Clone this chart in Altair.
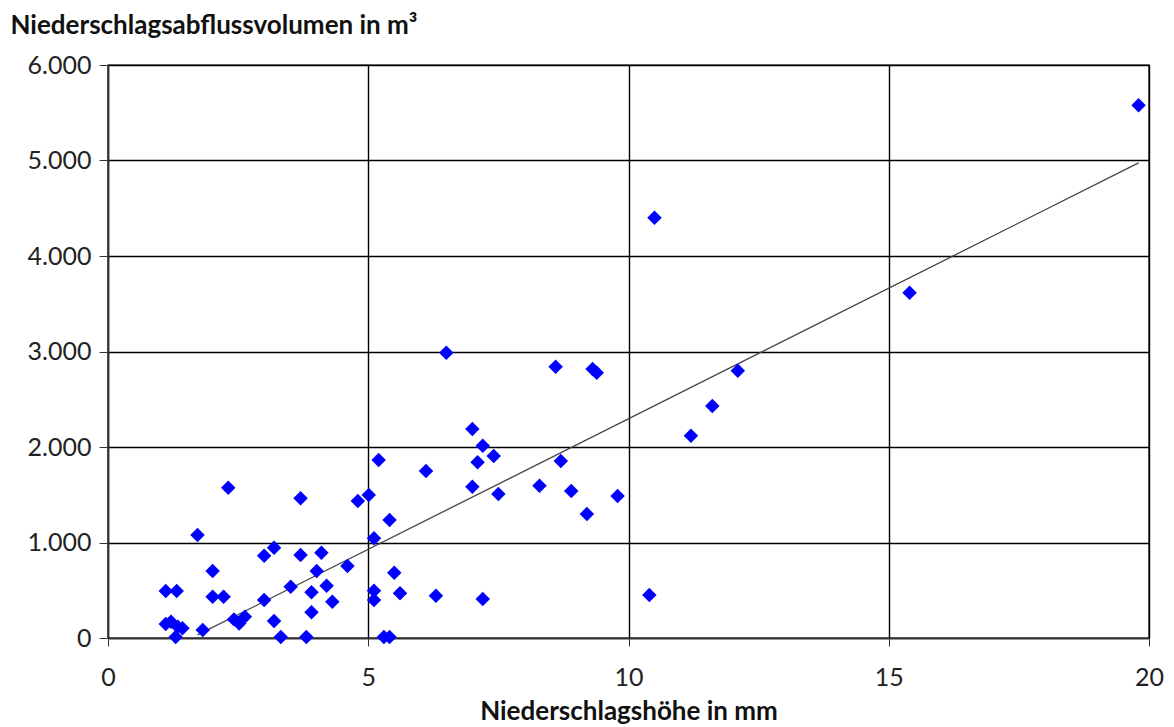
import altair as alt
import pandas as pd

# Niederschlagshöhe (mm) und Abflussvolumen (m³) je Ereignis
hoehe_mm = [
    1.11, 1.21, 1.34, 1.43, 1.30, 1.11, 1.32, 1.72, 1.82, 2.01,
    2.01, 2.22, 2.31, 2.42, 2.52, 2.63, 3.00, 3.00, 3.19, 3.19,
    3.32, 3.51, 3.70, 3.70, 3.81, 3.91, 3.91, 4.01, 4.10, 4.20,
    4.31, 4.60, 4.80, 5.01, 5.11, 5.11, 5.11, 5.20, 5.30, 5.41,
    5.41, 5.50, 5.61, 6.11, 6.30, 6.50, 7.00, 7.00, 7.10, 7.20,
    7.20, 7.41, 7.50, 8.29, 8.60, 8.70, 8.90, 9.20, 9.31, 9.39,
    9.79, 10.40, 10.50, 11.20, 11.61, 12.10, 15.40, 19.80,
]
volumen_m3 = [
    147, 171, 119, 101, 10, 492, 492, 1079, 84, 702,
    433, 433, 1574, 195, 153, 223, 862, 398, 946, 178,
    10, 537, 1463, 869, 10, 478, 269, 702, 893, 548,
    380, 754, 1435, 1497, 1044, 495, 398, 1864, 10, 10,
    1236, 684, 468, 1749, 443, 2988, 2188, 1585, 1840, 2014,
    408, 1906, 1508, 1595, 2841, 1853, 1539, 1298, 2817, 2778,
    1487, 450, 4400, 2119, 2429, 2798, 3616, 5578,
]

# Endpunkte der Ausgleichsgeraden
trend_x = [1.72, 19.80]
trend_y = [32, 4975]

punkte = pd.DataFrame({"x": hoehe_mm, "y": volumen_m3})
trend = pd.DataFrame({"x": trend_x, "y": trend_y})

FONT = "Lato"

x_scale = alt.Scale(domain=[0, 20], nice=False, zero=True)
y_scale = alt.Scale(domain=[0, 6000], nice=False)

x_axis = alt.Axis(
    values=[0, 5, 10, 15, 20],
    title="Niederschlagshöhe in mm",
    titleFont=FONT, titleFontSize=26, titleFontWeight="bold", titleColor="#111",
    titlePadding=8,
    labelFont=FONT, labelFontSize=25, labelColor="#222", labelPadding=19,
    labelFlush=False,
    tickSize=8, tickColor="#333", domainColor="#333", domainWidth=1.5,
    gridColor="#000", gridWidth=1.4,
)
y_axis = alt.Axis(
    values=[0, 1000, 2000, 3000, 4000, 5000, 6000],
    labelExpr="replace(format(datum.value, ','), ',', '.')",
    title="Niederschlagsabflussvolumen in m³",
    titleAngle=0, titleAlign="left", titleBaseline="alphabetic",
    titleX=-98, titleY=-32,
    titleFont=FONT, titleFontSize=26, titleFontWeight="bold", titleColor="#111",
    labelFont=FONT, labelFontSize=25, labelColor="#222", labelPadding=8,
    labelFlush=False,
    tickSize=9, tickColor="#333", domainColor="#333", domainWidth=1.5,
    gridColor="#000", gridWidth=1.4,
)

scatter = alt.Chart(punkte).mark_point(
    shape="diamond", filled=True, size=210, color="#0000FF", opacity=1
).encode(
    x=alt.X("x:Q", scale=x_scale, axis=x_axis),
    y=alt.Y("y:Q", scale=y_scale, axis=y_axis),
)

line = alt.Chart(trend).mark_line(color="#444", strokeWidth=1.3).encode(
    x=alt.X("x:Q", scale=x_scale),
    y=alt.Y("y:Q", scale=y_scale),
)

chart = (
    alt.layer(line, scatter)
    .properties(
        width=1041,
        height=573,
        padding={"left": 108, "top": 65, "right": 25, "bottom": 89},
        autosize=alt.AutoSizeParams(type="none"),
        background="white",
    )
    .configure_view(stroke="#000", strokeWidth=1.4)
)

chart.save("out.html", embed_options={"renderer": "svg", "actions": False})
